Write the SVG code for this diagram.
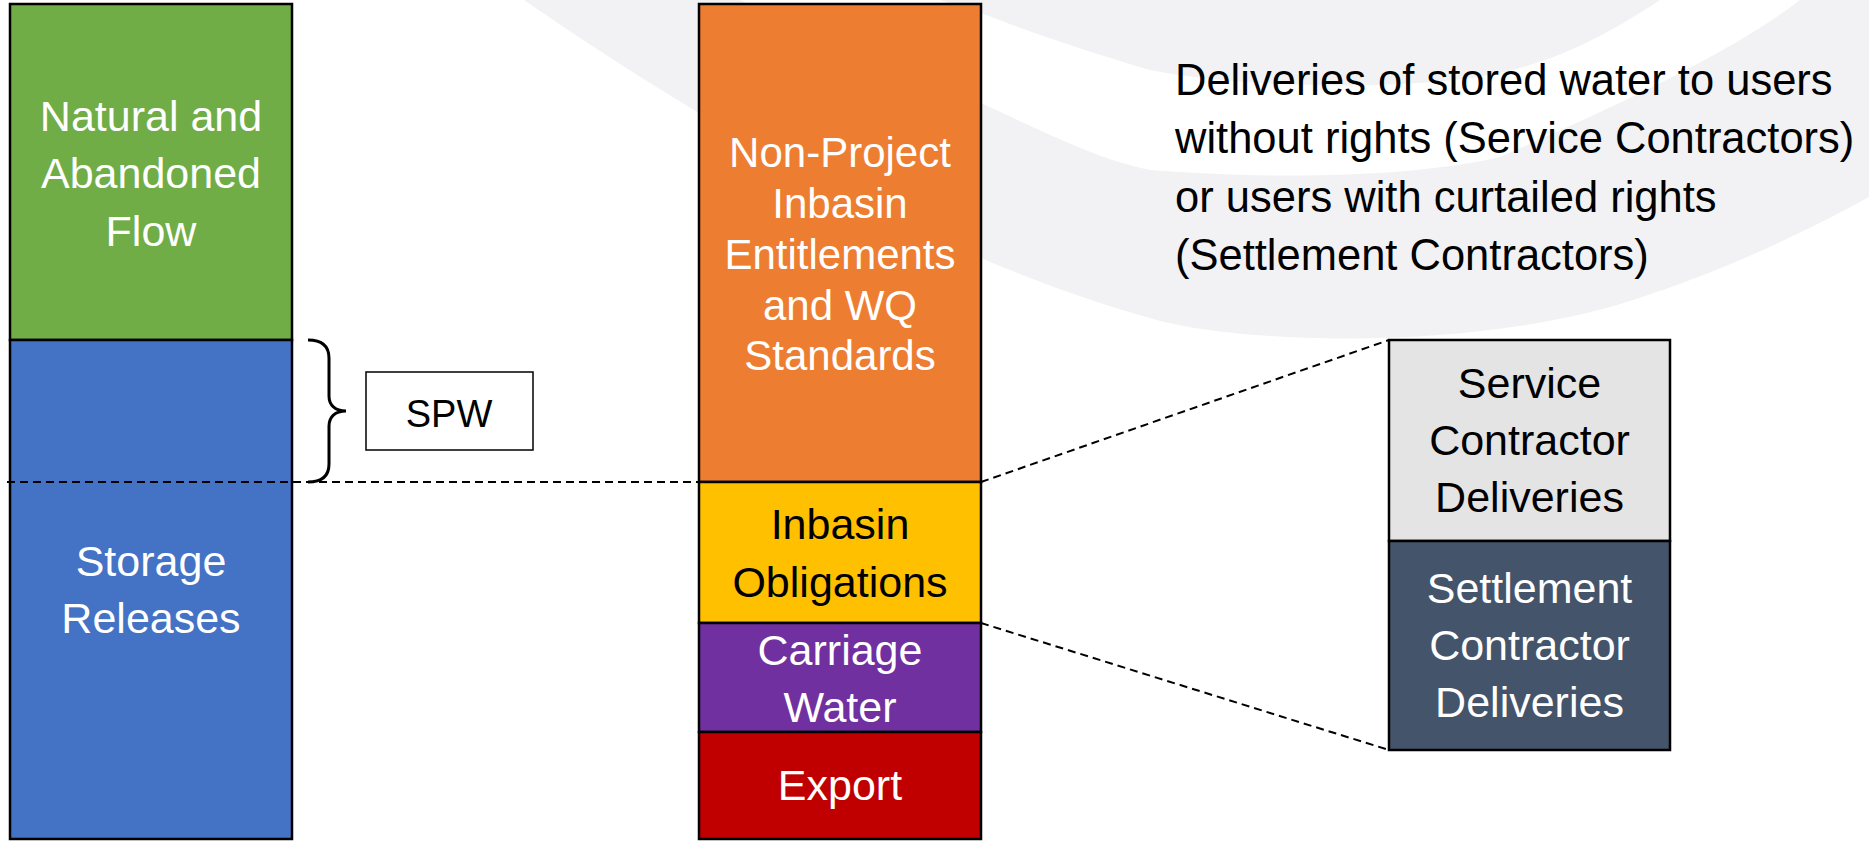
<svg xmlns="http://www.w3.org/2000/svg" width="1869" height="843" viewBox="0 0 1869 843">
<defs>
<style>
.bar{stroke:#000;stroke-width:2.5}
.t{font-family:"Liberation Sans",Arial,sans-serif;font-size:43px;text-anchor:middle}
.w{fill:#fff}
.k{fill:#000}
.dash{fill:none;stroke:#000;stroke-width:2;stroke-dasharray:8 5}
</style>
</defs>
<rect width="1869" height="843" fill="#fff"/>
<g id="background">
<path d="M524,0 C640,80 900,250 1157,320 C1250,345 1480,350 1633,300 C1720,272 1800,235 1869,197 L1869,0 Z" fill="#f2f2f4"/>
<path d="M940,0 C955,5 970,10 981,13 C1010,24 1050,40 1150,70 C1250,90 1420,90 1500,73 C1550,62 1600,40 1660,0 L1800,0 C1760,30 1700,70 1500,157 C1400,180 1250,178 1150,170 C1100,160 1050,135 981,103 C900,65 800,30 740,0 Z" fill="#fff"/>
</g>
<g id="left-column">
<g id="natural-flow">
<rect class="bar" x="10" y="4" width="282" height="336" fill="#70ad47"/>
<text class="t w" x="151" y="131">Natural and</text>
<text class="t w" x="151" y="188">Abandoned</text>
<text class="t w" x="151" y="246">Flow</text>
</g>
<g id="storage-releases">
<rect class="bar" x="10" y="340" width="282" height="499" fill="#4472c4"/>
<text class="t w" x="151" y="576">Storage</text>
<text class="t w" x="151" y="633">Releases</text>
</g>
</g>
<g id="spw">
<path d="M308,340 C322,340 329,346 329,358 L329,396 C329,405 335,411 346,411 C335,411 329,417 329,426 L329,464 C329,476 322,482 308,482" fill="none" stroke="#000" stroke-width="3"/>
<rect x="366" y="372" width="167" height="78" fill="#fff" stroke="#000" stroke-width="1.5"/>
<text class="t k" x="449" y="427" style="font-size:38px">SPW</text>
</g>
<g id="middle-column">
<g id="non-project">
<rect class="bar" x="699" y="4" width="282" height="478" fill="#ed7d31"/>
<text class="t w" x="840" y="167" style="font-size:42px">Non-Project</text>
<text class="t w" x="840" y="218" style="font-size:42px">Inbasin</text>
<text class="t w" x="840" y="269" style="font-size:42px">Entitlements</text>
<text class="t w" x="840" y="320" style="font-size:42px">and WQ</text>
<text class="t w" x="840" y="370" style="font-size:42px">Standards</text>
</g>
<g id="inbasin-obligations">
<rect class="bar" x="699" y="482" width="282" height="141" fill="#ffc000"/>
<text class="t k" x="840" y="539">Inbasin</text>
<text class="t k" x="840" y="597">Obligations</text>
</g>
<g id="carriage-water">
<rect class="bar" x="699" y="623" width="282" height="109" fill="#7030a0"/>
<text class="t w" x="840" y="665">Carriage</text>
<text class="t w" x="840" y="722">Water</text>
</g>
<g id="export">
<rect class="bar" x="699" y="732" width="282" height="107" fill="#c00000"/>
<text class="t w" x="840" y="800">Export</text>
</g>
</g>
<g id="description">
<text style="font-family:'Liberation Sans',Arial,sans-serif;font-size:43.5px" fill="#000">
<tspan x="1175" y="95">Deliveries of stored water to users</tspan>
<tspan x="1175" y="153">without rights (Service Contractors)</tspan>
<tspan x="1175" y="212">or users with curtailed rights</tspan>
<tspan x="1175" y="270">(Settlement Contractors)</tspan>
</text>
</g>
<g id="right-column">
<g id="service-contractor">
<rect class="bar" x="1389" y="340" width="281" height="201" fill="#e4e4e4"/>
<text class="t k" x="1529.5" y="398">Service</text>
<text class="t k" x="1529.5" y="455">Contractor</text>
<text class="t k" x="1529.5" y="512">Deliveries</text>
</g>
<g id="settlement-contractor">
<rect class="bar" x="1389" y="541" width="281" height="209" fill="#44546a"/>
<text class="t w" x="1529.5" y="603">Settlement</text>
<text class="t w" x="1529.5" y="660">Contractor</text>
<text class="t w" x="1529.5" y="717">Deliveries</text>
</g>
</g>
<g id="connectors">
<line class="dash" x1="7" y1="482" x2="699" y2="482"/>
<line class="dash" x1="981" y1="482" x2="1389" y2="340"/>
<line class="dash" x1="981" y1="623" x2="1389" y2="750"/>
</g>
</svg>
